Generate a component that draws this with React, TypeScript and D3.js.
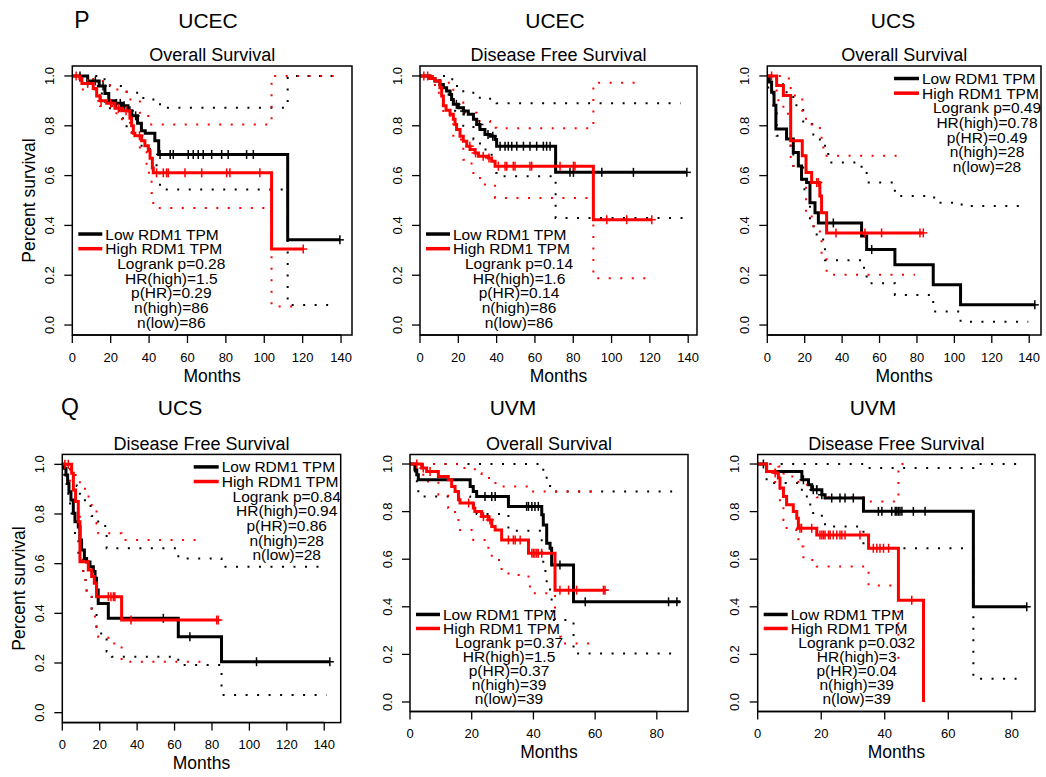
import React from 'react';
import * as d3 from 'd3';

type Pt = [number, number];

// ---------- shared labels ----------
const legendLabels = ['Low RDM1 TPM', 'High RDM1 TPM'];
const yTicks = [0, 0.2, 0.4, 0.6, 0.8, 1.0];
const xTicksLong = [0, 20, 40, 60, 80, 100, 120, 140];
const xTicksShort = [0, 20, 40, 60, 80];

// ---------- UCEC Overall Survival ----------
const ucecOsLow: Pt[] = [[0,1],[8,0.98],[14,0.96],[17,0.93],[19,0.9],[22,0.89],[26,0.88],[29,0.86],[31,0.84],[34,0.81],[36,0.78],[38,0.77],[43,0.74],[45,0.685],[112.2,0.342],[139.4,0.342]];
const ucecOsLowCensor = [4,12,16,23,25,27,30,33,45.7,51,52.6,60.4,63,65.6,68.2,72.6,77.8,81.2,90.8,94.3,139.4];
const ucecOsHigh: Pt[] = [[0,1],[4,0.99],[5,0.97],[10.9,0.95],[12.7,0.92],[14.4,0.9],[17.9,0.89],[22.2,0.87],[25.7,0.86],[30,0.83],[30.9,0.8],[31.8,0.77],[32.6,0.76],[36.1,0.74],[37.8,0.72],[39.6,0.7],[40.5,0.67],[41.7,0.63],[42.2,0.611],[103.8,0.305],[120.3,0.305]];
const ucecOsHighCensor = [2,8,15,20,24,28,35,43.9,47.4,49.1,50,58.7,67.4,80.4,82.1,97.7,120.3];
const ucecOsLowUpper: Pt[] = [[0,1],[13.5,0.987],[19.6,0.96],[28.3,0.933],[37,0.906],[45.7,0.872],[112.2,1],[139.4,1]];
const ucecOsLowLower: Pt[] = [[0,1],[8,0.96],[14,0.93],[17,0.89],[19.6,0.86],[25,0.83],[28.3,0.79],[31,0.76],[35,0.72],[40.5,0.67],[43.9,0.62],[45.7,0.544],[112.2,0.08],[135.9,0.08]];
const ucecOsHighUpper: Pt[] = [[0,1],[10.9,0.98],[19.6,0.946],[28.3,0.906],[35.2,0.852],[39.6,0.805],[103.8,1],[137.7,1]];
const ucecOsHighLower: Pt[] = [[0,1],[4,0.946],[14.4,0.879],[23,0.826],[30,0.772],[35.2,0.705],[38.7,0.611],[41.3,0.53],[42.2,0.47],[103.8,0.074],[118.6,0.074]];
const ucecOsStats = ['Logrank p=0.28', 'HR(high)=1.5', 'p(HR)=0.29', 'n(high)=86', 'n(low)=86'];

// ---------- UCEC Disease Free Survival ----------
const ucecDfsLow: Pt[] = [[0,1],[5.2,0.99],[7.8,0.98],[10.4,0.966],[12.2,0.953],[13.9,0.94],[15.7,0.926],[16.5,0.906],[17.4,0.886],[20,0.872],[22.6,0.859],[25.2,0.846],[27.9,0.826],[29.6,0.805],[31.3,0.785],[33.9,0.765],[36.6,0.758],[39.2,0.745],[40,0.718],[70.8,0.613],[139.3,0.613]];
const ucecDfsLowCensor = [19,23,31,35.5,38,41.8,44.4,46.1,47.9,50.5,54,57.4,60.9,64.4,66.1,67.9,78.3,80.1,94.9,111.4,139.3];
const ucecDfsHigh: Pt[] = [[0,1],[5.2,0.99],[7.8,0.98],[10.4,0.953],[11.3,0.92],[12.2,0.88],[13.6,0.862],[15.7,0.846],[17.4,0.826],[18.3,0.805],[19.1,0.785],[20.9,0.758],[22.6,0.738],[24.4,0.718],[26.1,0.705],[28.7,0.691],[30.5,0.678],[35.7,0.671],[37.4,0.658],[39.2,0.638],[90.5,0.423],[121,0.423]];
const ucecDfsHighCensor = [2,4,26,29,33,36,40.9,44.4,45.3,48.7,49.6,57.4,58.3,73.1,80.1,80.9,97.5,107.9,121];
const ucecDfsLowUpper: Pt[] = [[0,1],[13.9,0.987],[17.4,0.96],[22.6,0.933],[29.6,0.913],[36.6,0.893],[40,0.89],[136,0.89]];
const ucecDfsLowLower: Pt[] = [[0,1],[5.2,0.98],[12.2,0.926],[17.4,0.86],[22.6,0.8],[27.9,0.745],[31.3,0.705],[37.4,0.651],[39.2,0.61],[40,0.597],[70.8,0.43],[137.5,0.43]];
const ucecDfsHighUpper: Pt[] = [[0,1],[10.4,0.973],[17.4,0.893],[22.6,0.852],[29.6,0.819],[36.6,0.792],[40,0.79],[90.5,0.973],[114.9,0.973]];
const ucecDfsHighLower: Pt[] = [[0,1],[7.8,0.933],[12.2,0.84],[17.4,0.745],[22.6,0.664],[26.9,0.61],[31.3,0.564],[39.2,0.51],[90.5,0.188],[119.2,0.188]];
const ucecDfsStats = ['Logrank p=0.14', 'HR(high)=1.6', 'p(HR)=0.14', 'n(high)=86', 'n(low)=86'];

// ---------- UCS Overall Survival ----------
const ucsOsLow: Pt[] = [[0,1],[1.07,0.976],[2.3,0.935],[3.6,0.882],[4.6,0.787],[10.3,0.747],[13.9,0.693],[16.6,0.639],[18.3,0.585],[21,0.572],[22.8,0.491],[25.5,0.451],[27.3,0.41],[50.4,0.357],[53.1,0.303],[68.2,0.242],[88.7,0.162],[103.3,0.081],[143,0.081]];
const ucsOsLowCensor = [35.3,55.8,143];
const ucsOsHigh: Pt[] = [[0,1],[5,0.962],[8.6,0.922],[12.5,0.74],[18.7,0.68],[20.7,0.612],[23.7,0.572],[28.1,0.518],[29,0.451],[31.7,0.37],[83.4,0.37]];
const ucsOsHighCensor = [2.3,26.4,27.3,36.7,52.2,61.1,81.6,83.4];
const ucsOsLowUpper: Pt[] = [[0,1],[1.1,0.99],[5,0.967],[10.3,0.922],[13.9,0.882],[19.2,0.807],[24.6,0.76],[28.1,0.72],[32.6,0.653],[50.4,0.61],[53.1,0.572],[68.2,0.518],[89.2,0.491],[103.9,0.478],[139.5,0.478]];
const ucsOsLowLower: Pt[] = [[0,1],[0.5,0.935],[3.2,0.882],[5,0.76],[10.3,0.72],[13.9,0.639],[19.2,0.545],[22.8,0.397],[26.4,0.343],[30.8,0.26],[50.4,0.23],[53.1,0.168],[68.2,0.121],[88.7,0.054],[103.3,0.013],[139.5,0.013]];
const ucsOsHighUpper: Pt[] = [[0,1],[8.6,0.99],[12.5,0.922],[18.7,0.86],[20.7,0.82],[23.7,0.8],[28.1,0.77],[29,0.713],[31.7,0.68],[72.7,0.68]];
const ucsOsHighLower: Pt[] = [[0,1],[5,0.902],[8.6,0.848],[12.5,0.639],[18.7,0.559],[20.7,0.451],[23.7,0.397],[28.1,0.343],[29,0.276],[31.7,0.202],[78.9,0.202]];
const ucsOsStats = ['Logrank p=0.49', 'HR(high)=0.78', 'p(HR)=0.49', 'n(high)=28', 'n(low)=28'];

// ---------- UCS Disease Free Survival ----------
const ucsDfsLow: Pt[] = [[0,1],[1.07,0.984],[1.96,0.957],[2.85,0.923],[3.56,0.89],[4.63,0.856],[5.88,0.803],[6.77,0.769],[8.55,0.748],[9.44,0.695],[10.3,0.655],[11.8,0.621],[13,0.607],[14.8,0.588],[16.6,0.568],[17.5,0.541],[18.3,0.494],[19.2,0.44],[24.6,0.38],[62,0.306],[85.1,0.205],[143,0.205]];
const ucsDfsLowCensor = [54,68.2,103.8,143];
const ucsDfsHigh: Pt[] = [[0,1],[5,0.964],[5.9,0.897],[7.1,0.85],[8.55,0.769],[9.44,0.608],[13.9,0.574],[15.7,0.548],[17.1,0.521],[18.3,0.467],[31.7,0.373],[83.4,0.373]];
const ucsDfsHighCensor = [1.4,3.2,24.6,26,27.3,28.1,36.7,82.5,83.4];
const ucsDfsLowUpper: Pt[] = [[0,1],[4.1,0.98],[5.9,0.945],[7.7,0.913],[9.4,0.873],[12.1,0.832],[15.7,0.792],[19.2,0.752],[23.7,0.662],[62,0.621],[85.1,0.588],[141.2,0.588]];
const ucsDfsLowLower: Pt[] = [[0,1],[1.07,0.95],[2.3,0.896],[3.2,0.842],[5,0.789],[6.8,0.708],[8.6,0.615],[11.2,0.534],[13,0.467],[15.7,0.406],[18.3,0.346],[19.2,0.319],[23.7,0.246],[26.5,0.225],[62,0.192],[85.1,0.071],[141.2,0.071]];
const ucsDfsHighUpper: Pt[] = [[0,1],[4.1,0.984],[6.8,0.957],[9.4,0.923],[12.1,0.87],[15.7,0.816],[18.3,0.762],[19.2,0.722],[31.7,0.695],[74.5,0.695]];
const ucsDfsHighLower: Pt[] = [[0,1],[4.1,0.883],[5.9,0.802],[9.4,0.655],[11.2,0.534],[13,0.48],[15.7,0.413],[17.5,0.346],[19.2,0.306],[24.6,0.279],[31.7,0.205],[78.9,0.205]];
const ucsDfsStats = ['Logrank p=0.84', 'HR(high)=0.94', 'p(HR)=0.86', 'n(high)=28', 'n(low)=28'];

// ---------- UVM Overall Survival ----------
const uvmOsLow: Pt[] = [[0,1],[1.6,0.976],[2.2,0.955],[2.7,0.934],[19.5,0.906],[20.5,0.885],[21.6,0.864],[31.9,0.822],[42.7,0.787],[43.2,0.744],[44.3,0.667],[45.4,0.646],[45.9,0.576],[53,0.421],[87.6,0.421]];
const uvmOsLowCensor = [24.3,26.5,27.6,37.8,38.4,39.5,40.5,41.6,48.6,56.8,83.8,86.5];
const uvmOsHigh: Pt[] = [[0,1],[3.8,0.983],[5.4,0.969],[9.2,0.948],[12.4,0.934],[13.5,0.906],[14.6,0.885],[15.7,0.85],[16.2,0.836],[20.5,0.815],[21,0.8],[23.2,0.779],[25.4,0.765],[26.5,0.737],[27.6,0.723],[29.7,0.681],[38.4,0.625],[47,0.47],[63.2,0.47]];
const uvmOsHighCensor = [2.2,4.3,6.5,19,23.8,25.9,31.9,33.5,34.1,35.7,39.5,40,40.5,41.1,41.6,42.7,48.6,51.4,54,62.7,63.2];
const uvmOsLowUpper: Pt[] = [[0,1],[43.2,0.97],[44.3,0.934],[45.4,0.899],[45.9,0.885],[85.4,0.885]];
const uvmOsLowLower: Pt[] = [[0,1],[1.6,0.93],[2.2,0.9],[2.7,0.864],[19.5,0.83],[21.6,0.79],[31.9,0.72],[42.7,0.62],[43.2,0.55],[44.3,0.48],[45.4,0.44],[45.9,0.344],[53,0.204],[85.4,0.204]];
const uvmOsHighUpper: Pt[] = [[0,1],[16.2,0.983],[21,0.962],[23.2,0.941],[26.5,0.92],[29.7,0.906],[38.4,0.885],[61.1,0.885]];
const uvmOsHighLower: Pt[] = [[0,1],[3.8,0.955],[5.4,0.927],[9.2,0.871],[12.4,0.815],[14.6,0.78],[15.7,0.723],[20.5,0.681],[25.4,0.639],[26.5,0.597],[29.7,0.555],[31.9,0.534],[38.4,0.485],[40,0.457],[47,0.274],[49,0.246],[61.1,0.246]];
const uvmOsStats = ['Logrank p=0.37', 'HR(high)=1.5', 'p(HR)=0.37', 'n(high)=39', 'n(low)=39'];

// ---------- UVM Disease Free Survival ----------
const uvmDfsLow: Pt[] = [[0,1],[2.8,0.969],[13.9,0.934],[16,0.913],[17,0.892],[20.2,0.871],[21.2,0.857],[33.3,0.801],[67.9,0.4],[84.7,0.4]];
const uvmDfsLowCensor = [1.8,14.4,17.5,18.6,20.2,23.3,25.9,27.5,30.1,38,39.1,42.2,43.3,43.8,44.3,44.8,45.4,49,52.7,84.7];
const uvmDfsHigh: Pt[] = [[0,1],[2.8,0.969],[5.5,0.962],[6.5,0.941],[7,0.899],[8.1,0.864],[9.1,0.829],[11.2,0.8],[12.3,0.772],[12.8,0.73],[18.6,0.702],[34.9,0.646],[44.3,0.428],[52.2,0]];
const uvmDfsHighCensor = [5.5,13.3,13.8,17,19.6,20.2,20.7,21.2,22.3,22.8,23.8,24.9,25.9,26.5,27.5,32.2,36.4,37.5,38.5,39.6,41.2,48.5];
const uvmDfsLowUpper: Pt[] = [[0,1],[33.3,0.983],[67.9,1],[83.2,1]];
const uvmDfsLowLower: Pt[] = [[0,1],[2.8,0.92],[13.9,0.864],[16,0.83],[17,0.794],[20.2,0.76],[21.2,0.737],[33.3,0.646],[67.9,0.098],[83.2,0.098]];
const uvmDfsHighUpper: Pt[] = [[0,1],[6.5,0.99],[8.1,0.96],[9.1,0.948],[12.8,0.913],[18.6,0.86],[34.9,0.843],[44.3,1],[47.5,1]];
const uvmDfsHighLower: Pt[] = [[0,1],[5.5,0.906],[7,0.822],[8.1,0.765],[9.1,0.723],[12.8,0.653],[14.4,0.597],[18.6,0.569],[34.9,0.49],[44.3,0.175]];
const uvmDfsStats = ['Logrank p=0.032', 'HR(high)=3', 'p(HR)=0.04', 'n(high)=39', 'n(low)=39'];

// ---------- layout ----------
interface Panel {
  tag?: string; tagX?: number; tagY?: number;
  cancer: string; cancerX: number; cancerY: number;
  title: string;
  left: number; top: number; right: number; bottom: number; xMax: number;
  xTicks: number[]; legend: 'bl' | 'tr'; yLabel: boolean;
  low: Pt[]; lowCens: number[]; high: Pt[]; highCens: number[];
  lowUp: Pt[]; lowLo: Pt[]; highUp: Pt[]; highLo: Pt[]; stats: string[];
}

const panels: Panel[] = [
  { tag: 'P', tagX: 82, tagY: 20, cancer: 'UCEC', cancerX: 208, cancerY: 20, title: 'Overall Survival',
    left: 72.3, top: 66, right: 352, bottom: 335, xMax: 145.7, xTicks: xTicksLong, legend: 'bl', yLabel: true,
    low: ucecOsLow, lowCens: ucecOsLowCensor, high: ucecOsHigh, highCens: ucecOsHighCensor,
    lowUp: ucecOsLowUpper, lowLo: ucecOsLowLower, highUp: ucecOsHighUpper, highLo: ucecOsHighLower, stats: ucecOsStats },
  { cancer: 'UCEC', cancerX: 555, cancerY: 20, title: 'Disease Free Survival',
    left: 420, top: 66, right: 697, bottom: 335, xMax: 144.6, xTicks: xTicksLong, legend: 'bl', yLabel: false,
    low: ucecDfsLow, lowCens: ucecDfsLowCensor, high: ucecDfsHigh, highCens: ucecDfsHighCensor,
    lowUp: ucecDfsLowUpper, lowLo: ucecDfsLowLower, highUp: ucecDfsHighUpper, highLo: ucecDfsHighLower, stats: ucecDfsStats },
  { cancer: 'UCS', cancerX: 893, cancerY: 20, title: 'Overall Survival',
    left: 767.3, top: 66, right: 1041, bottom: 335, xMax: 146.3, xTicks: xTicksLong, legend: 'tr', yLabel: false,
    low: ucsOsLow, lowCens: ucsOsLowCensor, high: ucsOsHigh, highCens: ucsOsHighCensor,
    lowUp: ucsOsLowUpper, lowLo: ucsOsLowLower, highUp: ucsOsHighUpper, highLo: ucsOsHighLower, stats: ucsOsStats },
  { tag: 'Q', tagX: 70, tagY: 407, cancer: 'UCS', cancerX: 180, cancerY: 407, title: 'Disease Free Survival',
    left: 62.3, top: 454.4, right: 340.7, bottom: 722.6, xMax: 148.8, xTicks: xTicksLong, legend: 'tr', yLabel: true,
    low: ucsDfsLow, lowCens: ucsDfsLowCensor, high: ucsDfsHigh, highCens: ucsDfsHighCensor,
    lowUp: ucsDfsLowUpper, lowLo: ucsDfsLowLower, highUp: ucsDfsHighUpper, highLo: ucsDfsHighLower, stats: ucsDfsStats },
  { cancer: 'UVM', cancerX: 513, cancerY: 407, title: 'Overall Survival',
    left: 410, top: 454.5, right: 688, bottom: 711.5, xMax: 90.1, xTicks: xTicksShort, legend: 'bl', yLabel: false,
    low: uvmOsLow, lowCens: uvmOsLowCensor, high: uvmOsHigh, highCens: uvmOsHighCensor,
    lowUp: uvmOsLowUpper, lowLo: uvmOsLowLower, highUp: uvmOsHighUpper, highLo: uvmOsHighLower, stats: uvmOsStats },
  { cancer: 'UVM', cancerX: 873, cancerY: 407, title: 'Disease Free Survival',
    left: 757.7, top: 454.5, right: 1035, bottom: 711.5, xMax: 87.3, xTicks: xTicksShort, legend: 'bl', yLabel: false,
    low: uvmDfsLow, lowCens: uvmDfsLowCensor, high: uvmDfsHigh, highCens: uvmDfsHighCensor,
    lowUp: uvmDfsLowUpper, lowLo: uvmDfsLowLower, highUp: uvmDfsHighUpper, highLo: uvmDfsHighLower, stats: uvmDfsStats },
];

const FONT = '"Liberation Sans", Arial, Helvetica, sans-serif';
const RED = '#ff0000';
const BLACK = '#000000';

function survAt(curve: Pt[], t: number): number {
  let s = curve[0][1];
  for (const p of curve) {
    if (p[0] <= t + 1e-9) s = p[1];
    else break;
  }
  return s;
}

function KMPanel({ p }: { p: Panel }) {
  const x = d3.scaleLinear().domain([0, p.xMax]).range([p.left, p.right]);
  const y = d3.scaleLinear().domain([-0.04, 1.04]).range([p.bottom, p.top]);
  const line = d3.line<Pt>().curve(d3.curveStepAfter).x(d => x(d[0])).y(d => y(d[1]));
  const cx = (p.left + p.right) / 2;
  const cy = (p.top + p.bottom) / 2;
  const rowH = (p.bottom - p.top) * 0.0545;

  const dotted = (d: Pt[], color: string, key: string) => (
    <path key={key} d={line(d) || ''} fill="none" stroke={color} strokeWidth={2} strokeDasharray="2 9.5" />
  );
  const curve = (d: Pt[], color: string) => (
    <path d={line(d) || ''} fill="none" stroke={color} strokeWidth={3} strokeLinejoin="miter" />
  );
  const censors = (c: Pt[], times: number[], color: string) =>
    times.map((t, i) => {
      const px = x(t);
      const py = y(survAt(c, t));
      return (
        <g key={i} stroke={color} strokeWidth={1.5}>
          <line x1={px} x2={px} y1={py - 4.5} y2={py + 4.5} />
          <line x1={px - 4} x2={px + 4} y1={py} y2={py} />
        </g>
      );
    });

  // legend geometry
  let rows: number[];
  let lineX1: number, lineX2: number, labelX: number, statX: number;
  if (p.legend === 'bl') {
    const last = p.bottom - 13;
    rows = d3.range(7).map(i => last - (6 - i) * rowH);
    lineX1 = p.left + 6; lineX2 = p.left + 30; labelX = p.left + 33; statX = p.left + 99;
  } else {
    const first = p.top + 12.5;
    rows = d3.range(7).map(i => first + i * rowH);
    lineX1 = p.right - 147; lineX2 = p.right - 122; labelX = p.right - 119; statX = p.right - 54;
  }

  return (
    <g fontFamily={FONT}>
      {p.tag && (
        <text x={p.tagX} y={p.tagY} dy="0.36em" textAnchor="middle" fontSize={23}>{p.tag}</text>
      )}
      <text x={p.cancerX} y={p.cancerY} dy="0.36em" textAnchor="middle" fontSize={21}>{p.cancer}</text>
      <text x={cx} y={p.top - 11} dy="0.36em" textAnchor="middle" fontSize={18}>{p.title}</text>

      {/* confidence bands */}
      {dotted(p.lowUp, BLACK, 'lu')}
      {dotted(p.lowLo, BLACK, 'll')}
      {dotted(p.highUp, RED, 'hu')}
      {dotted(p.highLo, RED, 'hl')}

      {/* survival curves */}
      {curve(p.low, BLACK)}
      {censors(p.low, p.lowCens, BLACK)}
      {curve(p.high, RED)}
      {censors(p.high, p.highCens, RED)}

      {/* box */}
      <rect x={p.left} y={p.top} width={p.right - p.left} height={p.bottom - p.top} fill="none" stroke="#000" strokeWidth={1.5} />

      {/* x axis */}
      <line x1={x(p.xTicks[0])} x2={x(p.xTicks[p.xTicks.length - 1])} y1={p.bottom} y2={p.bottom} stroke="#000" strokeWidth={1.5} />
      {p.xTicks.map(t => (
        <g key={t}>
          <line x1={x(t)} x2={x(t)} y1={p.bottom} y2={p.bottom + 8} stroke="#000" strokeWidth={1.3} />
          <text x={x(t)} y={p.bottom + 22} dy="0.36em" textAnchor="middle" fontSize={13}>{t}</text>
        </g>
      ))}
      <text x={cx} y={p.bottom + 40.5} dy="0.36em" textAnchor="middle" fontSize={17.5}>Months</text>

      {/* y axis */}
      {yTicks.map(t => (
        <g key={t}>
          <line x1={p.left - 8} x2={p.left} y1={y(t)} y2={y(t)} stroke="#000" strokeWidth={1.3} />
          <text transform={`translate(${p.left - 23},${y(t)}) rotate(-90)`} dy="0.36em" textAnchor="middle" fontSize={13}>{t.toFixed(1)}</text>
        </g>
      ))}
      {p.yLabel && (
        <text transform={`translate(${p.left - 44},${cy}) rotate(-90)`} dy="0.36em" textAnchor="middle" fontSize={17.5}>Percent survival</text>
      )}

      {/* legend */}
      <line x1={lineX1} x2={lineX2} y1={rows[0]} y2={rows[0]} stroke={BLACK} strokeWidth={3.5} />
      <line x1={lineX1} x2={lineX2} y1={rows[1]} y2={rows[1]} stroke={RED} strokeWidth={3.5} />
      <text x={labelX} y={rows[0]} dy="0.36em" fontSize={15.5}>{legendLabels[0]}</text>
      <text x={labelX} y={rows[1]} dy="0.36em" fontSize={15.5}>{legendLabels[1]}</text>
      {p.stats.map((s, i) => (
        <text key={s + i} x={statX} y={rows[i + 2]} dy="0.36em" textAnchor="middle" fontSize={15.5}>{s}</text>
      ))}
    </g>
  );
}

export default function App() {
  return (
    <svg width={1046} height={777} viewBox="0 0 1046 777"
      style={{ position: 'absolute', left: 0, top: 0, background: '#fff' }}>
      <rect x={0} y={0} width={1046} height={777} fill="#fff" />
      {panels.map((p, i) => <KMPanel key={i} p={p} />)}
    </svg>
  );
}
